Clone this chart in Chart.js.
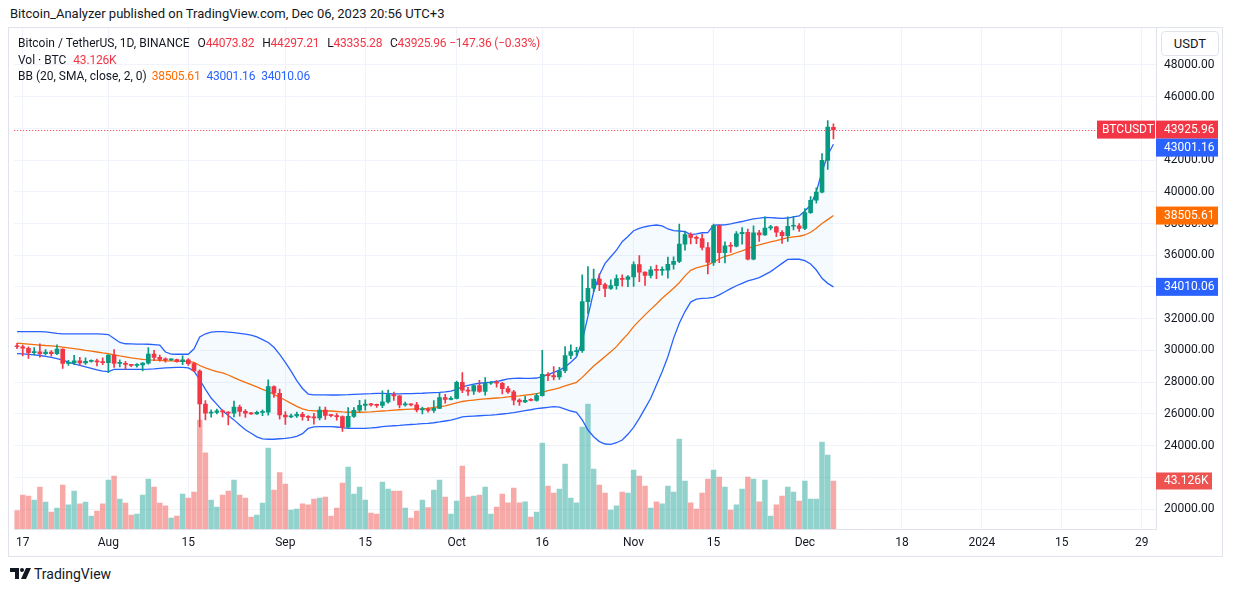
<!DOCTYPE html>
<html>
<head>
<meta charset="utf-8">
<script src="https://cdn.jsdelivr.net/npm/chart.js@4.4.0/dist/chart.umd.min.js"></script>
<style>
  body { margin: 0; background: #fff; font-family: Roboto, "Noto Sans", sans-serif; color: #131722; }
  #top { position: absolute; left: 10px; top: 6px; font-size: 13px; white-space: nowrap; }
  #frame { position: absolute; left: 8px; top: 27px; width: 1213px; height: 528px; border: 1px solid #E0E3EB; }
  #legend { position: absolute; left: 18px; top: 35px; font-size: 12px; line-height: 16.5px; white-space: nowrap; z-index: 2; }
  #legend .r { color: #F23645; }
  #legend .o { color: #FF6D00; }
  #legend .b { color: #2962FF; }
  #legend .n { letter-spacing: -0.2px; }
  #legend .k { margin-left: 5px; }
  #usdt { position: absolute; left: 1161px; top: 31px; width: 56px; height: 23px; border: 1px solid #E0E3EB; border-radius: 4px; background: #fff; font-size: 13px; line-height: 23px; text-align: center; z-index: 2; }
  #brand { position: absolute; left: 10px; top: 566px; font-size: 14px; display: flex; align-items: center; }
</style>
</head>
<body>
<div id="top">Bitcoin_Analyzer published on TradingView.com, Dec 06, 2023 20:56 UTC+3</div>
<div id="frame"><canvas id="chart"></canvas></div>
<div id="legend">
  <div>Bitcoin / TetherUS, 1D, BINANCE <span class="n"><span class="k">O</span><span class="r">44073.82</span> <span class="k">H</span><span class="r">44297.21</span> <span class="k">L</span><span class="r">43335.28</span> <span class="k">C</span><span class="r">43925.96 &minus;147.36 (&minus;0.33%)</span></span></div>
  <div>Vol · BTC <span class="r n" style="margin-left:4px">43.126K</span></div>
  <div>BB (20, SMA, close, 2, 0) <span class="o n" style="margin-left:2px">38505.61</span> <span class="b n" style="margin-left:3px">43001.16</span> <span class="b n" style="margin-left:3px">34010.06</span></div>
</div>
<div id="usdt">USDT</div>
<div id="brand">
  <svg width="22" height="12" viewBox="0 0 22 12"><path d="M0 0h9v11H5V4H0z" fill="#131722"/><circle cx="12" cy="2" r="2" fill="#131722"/><path d="M16 0h5l-5 11h-5z" fill="#131722"/></svg>
  <span style="margin-left:2px">TradingView</span>
</div>
<script>
// ------------------------------------------------------- //
// Data (daily, from 2023-07-16 to 2023-12-06)
// ------------------------------------------------------ //
var startDate = Date.UTC(2023, 6, 16);
var dayCount = 200; // visible days on the time axis, up to end of Jan 2024

var tickDates = ['2023-07-17', '2023-08-01', '2023-08-15', '2023-09-01', '2023-09-15', '2023-10-01', '2023-10-16',
                 '2023-11-01', '2023-11-15', '2023-12-01', '2023-12-18', '2024-01-01', '2024-01-15', '2024-01-29'];
var tickText = ['17', 'Aug', '15', 'Sep', '15', 'Oct', '16', 'Nov', '15', 'Dec', '18', '2024', '15', '29'];
var priceTicks = [20000, 22000, 24000, 26000, 28000, 30000, 32000, 34000, 36000, 38000, 40000, 42000, 44000, 46000, 48000];
var hiddenPriceLabels = [22000]; // covered by the volume tag

var opens = [30290, 30230, 30140, 29860, 29910, 29800, 29900, 29790, 30080, 29180,
  29230, 29350, 29210, 29310, 29350, 29280, 29230, 29700, 29180, 29190,
  29110, 29060, 29080, 29200, 29770, 29560, 29430, 29400, 29420, 29290,
  29410, 29170, 28700, 26620, 26050, 26090, 26190, 26120, 26050, 26430,
  26160, 26050, 26000, 26090, 26100, 27720, 27300, 25930, 25800, 25870,
  25970, 25820, 25780, 25750, 26240, 25900, 25890, 25830, 25160, 25840,
  26230, 26530, 26610, 26570, 26530, 26760, 27210, 27130, 26570, 26590,
  26570, 26250, 26300, 26220, 26350, 27020, 26910, 26970, 27990, 27500,
  27430, 27790, 27410, 27930, 27960, 27930, 27590, 27390, 26870, 26760,
  26860, 26850, 27150, 28500, 28410, 28330, 28720, 29680, 29920, 29990,
  33080, 33920, 34500, 34150, 33910, 34090, 34530, 34480, 34640, 35420,
  34940, 34730, 35080, 35050, 35060, 35430, 35620, 36700, 37310, 37130,
  37060, 36490, 35550, 37880, 36160, 36600, 36570, 37360, 37450, 35750,
  37420, 37290, 37720, 37800, 37450, 37240, 37830, 37860, 37700, 38690,
  39470, 39980, 41990, 44073.82];

var highs = [30450, 30340, 30230, 30180, 30420, 30050, 29990, 30350, 30100, 29380,
  29690, 29570, 29530, 29410, 29450, 29530, 29740, 30050, 29410, 29310,
  29120, 29170, 29240, 30180, 30000, 29700, 29530, 29470, 29450, 29660,
  29480, 29220, 28780, 26840, 26260, 26300, 26260, 26140, 26800, 26550,
  26270, 26100, 26170, 26250, 28140, 27760, 27570, 26140, 25980, 26120,
  26100, 25890, 26040, 26450, 26430, 25950, 26020, 25880, 26400, 26400,
  26860, 26890, 26670, 26620, 27460, 27500, 27380, 27150, 26740, 26640,
  26720, 26430, 26400, 26830, 27310, 27230, 27090, 28060, 28600, 27670,
  27830, 28120, 28290, 28050, 28100, 27990, 27740, 27480, 26940, 27100,
  26970, 27290, 30000, 28610, 28980, 28930, 30240, 30350, 30200, 34760,
  35280, 35130, 34830, 34240, 34450, 34760, 34760, 34720, 35590, 35980,
  34950, 35280, 35380, 35270, 35890, 35900, 37970, 37530, 37410, 37230,
  37340, 36800, 37970, 37910, 36850, 36800, 37500, 37750, 37650, 37860,
  37570, 38420, 37890, 37820, 37560, 38420, 38450, 38000, 38950, 39700,
  40250, 42420, 44490, 44297.21];

var lows = [30110, 29660, 29500, 29720, 29570, 29720, 29640, 29730, 28860, 29050,
  29100, 29060, 29120, 29260, 29030, 29100, 28590, 28930, 28960, 28800,
  28970, 28950, 28700, 29130, 29360, 29330, 29260, 29360, 29260, 29100,
  29060, 28660, 25170, 25620, 25790, 26000, 25810, 25300, 25800, 25860,
  25780, 25970, 25960, 25880, 25910, 27030, 25660, 25330, 25760, 25780,
  25600, 25570, 25350, 25620, 25650, 25800, 25600, 24900, 25130, 25770,
  26130, 26230, 26480, 26400, 26390, 26680, 26850, 26380, 26480, 26500,
  26130, 26000, 26100, 26090, 26330, 26670, 26880, 26940, 27330, 27160,
  27220, 27350, 27180, 27860, 27690, 27260, 27290, 26560, 26540, 26700,
  26810, 26800, 27110, 28090, 28140, 28170, 28600, 29480, 29670, 29880,
  32300, 33700, 33770, 33390, 33850, 33870, 34060, 34020, 34030, 34340,
  34100, 34580, 34530, 34740, 34550, 35130, 35540, 36330, 36720, 36740,
  36340, 34820, 35360, 35530, 35520, 36180, 36520, 36700, 35700, 35700,
  36880, 37260, 37600, 37170, 36750, 36870, 37600, 37500, 37620, 38640,
  39280, 39940, 41420, 43335.28];

var closes = [30230, 30140, 29860, 29910, 29800, 29900, 29790, 30080, 29180, 29230,
  29350, 29210, 29310, 29350, 29280, 29230, 29700, 29180, 29190, 29110,
  29060, 29080, 29200, 29770, 29560, 29430, 29400, 29420, 29290, 29410,
  29170, 28700, 26620, 26050, 26090, 26190, 26120, 26050, 26430, 26160,
  26050, 26000, 26090, 26100, 27720, 27300, 25930, 25800, 25870, 25970,
  25820, 25780, 25750, 26240, 25900, 25890, 25830, 25160, 25840, 26230,
  26530, 26610, 26570, 26530, 26760, 27210, 27130, 26570, 26590, 26570,
  26250, 26300, 26220, 26350, 27020, 26910, 26970, 27990, 27500, 27430,
  27790, 27410, 27930, 27960, 27930, 27590, 27390, 26870, 26760, 26860,
  26850, 27150, 28500, 28410, 28330, 28720, 29680, 29920, 29990, 33080,
  33920, 34500, 34150, 33910, 34090, 34530, 34480, 34640, 35420, 34940,
  34730, 35080, 35050, 35060, 35430, 35620, 36700, 37310, 37130, 37060,
  36490, 35550, 37880, 36160, 36600, 36570, 37360, 37450, 35750, 37420,
  37290, 37720, 37800, 37450, 37240, 37830, 37860, 37700, 38690, 39470,
  39980, 41990, 44080, 43925.96];

// volume in thousands of BTC
var volumes = [16.5, 30.5, 29.6, 26, 37.7, 24.2, 15.3, 18.9, 39.5, 21.6,
  34.1, 22.5, 24.2, 11.7, 16.2, 22.5, 44, 47.6, 26.9, 23.3,
  12.6, 13.5, 30.5, 44.9, 37.7, 23.3, 20.7, 9.9, 11.7, 31.4,
  27.8, 33.2, 97.9, 68.5, 26, 19.8, 30.5, 34.1, 44, 30.5,
  27.8, 10.8, 12.6, 23.3, 72.7, 35, 50.6, 40.4, 17.1, 18,
  22.5, 21.6, 26.9, 27.8, 28.7, 11.7, 18.9, 41.3, 55.7, 31.4,
  37.7, 26, 14.4, 13.5, 42.2, 35.9, 34.1, 34.1, 18.9, 9.9,
  16.2, 26, 19.2, 35, 44, 28.7, 13.5, 25.1, 56.6, 28.7,
  29.6, 30.5, 37.7, 13.5, 19.8, 31.4, 23.4, 36.8, 23.4, 24.3,
  10.8, 15.3, 77.2, 38.6, 32.3, 35.9, 58.4, 27.8, 23.4, 91.6,
  112.3, 53.9, 39.5, 32.3, 17.1, 20.7, 33.2, 32.3, 53, 47.6,
  38.6, 18.9, 24.3, 22.5, 38.6, 33.2, 80.8, 43.1, 23.4, 18,
  32.3, 44.9, 53, 46.7, 37.7, 17.1, 21.6, 35.9, 46.7, 44.9,
  24.3, 44, 11.7, 21.6, 29.6, 37.7, 33.2, 25.1, 43.1, 26.9,
  26.9, 78.1, 66.5, 43.126];

// Bollinger bands (20, 2)
var bbUpper = [31180, 31180, 31180, 31180, 31180, 31170, 31120, 31070, 31050, 31040,
  31040, 31040, 31040, 31040, 31040, 31030, 31000, 30750, 30500, 30420,
  30410, 30400, 30400, 30390, 30370, 30340, 29900, 29770, 29760, 29760,
  29760, 30100, 30850, 31050, 31150, 31180, 31180, 31160, 31120, 31080,
  31030, 30970, 30850, 30680, 30500, 30200, 29750, 29250, 28700, 28100,
  27600, 27250, 27200, 27200, 27200, 27190, 27190, 27200, 27210, 27230,
  27250, 27260, 27270, 27290, 27290, 27280, 27260, 27260, 27270, 27280,
  27290, 27300, 27320, 27340, 27360, 27390, 27430, 27550, 27700, 27800,
  27880, 27930, 27970, 28000, 28040, 28120, 28200, 28240, 28250, 28240,
  28240, 28260, 28350, 28480, 28620, 28760, 28950, 29250, 29600, 30600,
  32150, 33700, 34760, 35490, 35910, 36330, 36860, 37180, 37550, 37700,
  37800, 37870, 37910, 37850, 37660, 37550, 37530, 37490, 37300, 37350,
  37420, 37430, 37900, 37910, 37920, 37980, 38060, 38130, 38220, 38300,
  38340, 38390, 38380, 38350, 38330, 38350, 38420, 38480, 38790, 39170,
  40010, 41270, 42320, 43001.16];

var bbBasis = [30460, 30430, 30400, 30370, 30340, 30310, 30290, 30260, 30210, 30160,
  30110, 30060, 30000, 29950, 29900, 29840, 29800, 29720, 29650, 29590,
  29530, 29480, 29440, 29410, 29390, 29370, 29350, 29340, 29330, 29330,
  29300, 29250, 29050, 28900, 28780, 28670, 28580, 28450, 28280, 28130,
  27990, 27840, 27700, 27550, 27410, 27230, 27050, 26860, 26660, 26470,
  26320, 26220, 26190, 26180, 26180, 26180, 26150, 26120, 26100, 26110,
  26100, 26110, 26130, 26160, 26180, 26200, 26240, 26260, 26280, 26300,
  26320, 26330, 26350, 26400, 26450, 26500, 26600, 26700, 26780, 26830,
  26870, 26910, 26940, 26970, 27000, 27030, 27070, 27110, 27140, 27180,
  27220, 27270, 27350, 27460, 27550, 27640, 27760, 27880, 27990, 28300,
  28660, 29020, 29310, 29610, 29920, 30240, 30660, 31040, 31500, 31880,
  32240, 32590, 32930, 33290, 33600, 33920, 34270, 34700, 35050, 35200,
  35300, 35390, 35560, 35780, 35930, 36030, 36160, 36280, 36420, 36560,
  36650, 36750, 36840, 36920, 37020, 37110, 37160, 37200, 37280, 37450,
  37700, 38000, 38250, 38505.61];

var bbLower = [29800, 29780, 29750, 29720, 29680, 29620, 29560, 29480, 29390, 29260,
  29150, 29050, 28960, 28870, 28780, 28700, 28660, 28800, 28810, 28810,
  28810, 28810, 28810, 28820, 28840, 28870, 28900, 28920, 28930, 28930,
  28900, 28700, 28150, 27550, 27000, 26600, 26200, 25900, 25620, 25300,
  25000, 24780, 24550, 24420, 24400, 24400, 24430, 24460, 24500, 24580,
  24750, 25080, 25180, 25190, 25190, 25190, 25170, 25130, 25090, 25080,
  25080, 25090, 25110, 25140, 25200, 25230, 25250, 25270, 25300, 25330,
  25350, 25380, 25400, 25440, 25490, 25550, 25600, 25700, 25810, 25840,
  25860, 25880, 25900, 25920, 25950, 25990, 26030, 26080, 26140, 26200,
  26260, 26330, 26370, 26410, 26450, 26420, 26300, 26180, 26100, 25620,
  24980, 24560, 24250, 24100, 24080, 24180, 24350, 24710, 25150, 25720,
  26350, 26980, 27820, 28660, 29600, 30760, 31710, 32450, 33050, 33230,
  33280, 33300, 33350, 33500, 33700, 33900, 34080, 34230, 34380, 34480,
  34590, 34780, 34970, 35230, 35490, 35740, 35760, 35750, 35660, 35450,
  35070, 34550, 34230, 34010.06];

// ------------------------------------------------------- //
// Build what chart.js needs
// ------------------------------------------------------ //
var UP = '#089981', DOWN = '#F23645';

var labels = [];
for (var i = 0; i < dayCount; i++) {
    labels.push(new Date(startDate + i * 86400000).toISOString().slice(0, 10));
}

var bodies = [], wicks = [], candleColors = [], volColors = [];
opens.forEach(function (o, i) {
    var c = closes[i];
    bodies.push([Math.min(o, c), Math.max(o, c)]);
    wicks.push([lows[i], highs[i]]);
    candleColors.push(c >= o ? UP : DOWN);
    volColors.push(c >= o ? 'rgba(38,166,154,0.5)' : 'rgba(239,83,80,0.5)');
});

var lastClose = closes[closes.length - 1];
var lastVol = volumes[volumes.length - 1];

// badges on the price axis + last price dotted line
var badgesPlugin = {
    id: 'badges',
    afterDraw: function (chart) {
        var ctx = chart.ctx, area = chart.chartArea;
        var y = chart.scales.y, yv = chart.scales.yVol;
        ctx.save();
        ctx.font = '12px Roboto, "Noto Sans", sans-serif';
        ctx.textBaseline = 'middle';

        var py = y.getPixelForValue(lastClose);
        // dotted line
        ctx.strokeStyle = DOWN;
        ctx.lineWidth = 1;
        ctx.setLineDash([1, 2]);
        ctx.beginPath();
        ctx.moveTo(area.left, Math.round(py) + 0.5);
        ctx.lineTo(area.right - 60, Math.round(py) + 0.5);
        ctx.stroke();
        ctx.setLineDash([]);
        // BTCUSDT tag
        ctx.fillStyle = DOWN;
        ctx.fillRect(area.right - 59, py - 9, 58, 18);
        ctx.fillStyle = '#fff';
        ctx.fillText('BTCUSDT', area.right - 54, py + 0.5);

        var items = [
            { v: lastClose, color: DOWN },
            { v: bbUpper[bbUpper.length - 1], color: '#2962FF' },
            { v: bbBasis[bbBasis.length - 1], color: '#FF6D00' },
            { v: bbLower[bbLower.length - 1], color: '#2962FF' }
        ];
        var prevBottom = -1e9;
        items.forEach(function (it) {
            var cy = y.getPixelForValue(it.v);
            var top = cy - 9;
            if (top < prevBottom) top = prevBottom;
            prevBottom = top + 18;
            ctx.fillStyle = it.color;
            ctx.fillRect(area.right, top, 62, 18);
            ctx.fillStyle = '#fff';
            ctx.fillText(it.v.toFixed(2), area.right + 8, top + 9.5);
        });
        // volume badge
        var vy = yv.getPixelForValue(lastVol);
        ctx.fillStyle = '#EF5350';
        ctx.fillRect(area.right, vy - 8.5, 56, 17);
        ctx.fillStyle = '#fff';
        ctx.fillText(lastVol.toFixed(3) + 'K', area.right + 8, vy + 0.5);
        ctx.restore();
    }
};

Chart.defaults.font.family = 'Roboto, "Noto Sans", sans-serif';
Chart.defaults.color = '#131722';

var ctxC = document.getElementById('chart').getContext('2d');
var chart = new Chart(ctxC, {
    type: 'bar',
    data: {
        labels: labels,
        datasets: [
            {   // candle bodies
                data: bodies, backgroundColor: candleColors, barThickness: 4,
                minBarLength: 1, grouped: false, order: 0, yAxisID: 'y'
            },
            {   // wicks
                data: wicks, backgroundColor: candleColors, barThickness: 1,
                grouped: false, order: 1, yAxisID: 'y'
            },
            {
                type: 'line', data: bbUpper, borderColor: '#2962FF', borderWidth: 1.3,
                pointRadius: 0, fill: 4, backgroundColor: 'rgba(33,150,243,0.05)', order: 2, yAxisID: 'y'
            },
            {
                type: 'line', data: bbBasis, borderColor: '#FF6D00', borderWidth: 1.3,
                pointRadius: 0, fill: false, order: 2, yAxisID: 'y'
            },
            {
                type: 'line', data: bbLower, borderColor: '#2962FF', borderWidth: 1.3,
                pointRadius: 0, fill: false, order: 2, yAxisID: 'y'
            },
            {   // volume
                data: volumes, backgroundColor: volColors, barThickness: 4.8,
                grouped: false, order: 5, yAxisID: 'yVol'
            }
        ]
    },
    options: {
        responsive: true,
        maintainAspectRatio: false,
        animation: false,
        layout: { padding: 0 },
        plugins: { legend: { display: false }, tooltip: { enabled: false } },
        scales: {
            x: {
                offset: true,
                grid: { color: '#F0F3FA', drawTicks: false, offset: false },
                border: { color: '#E0E3EB' },
                ticks: {
                    autoSkip: false, maxRotation: 0, padding: 7, font: { size: 12 },
                    callback: function (v, i) {
                        var k = tickDates.indexOf(labels[i]);
                        return k >= 0 ? tickText[k] : null;
                    }
                },
                afterFit: function (s) { s.height = 27; }
            },
            y: {
                position: 'right',
                min: 18739, max: 50333,
                grid: { color: '#F0F3FA', drawTicks: false },
                border: { color: '#E0E3EB' },
                ticks: {
                    padding: 8, font: { size: 12 },
                    callback: function (v) {
                        return hiddenPriceLabels.indexOf(v) >= 0 ? '' : v.toFixed(2);
                    }
                },
                afterBuildTicks: function (s) {
                    s.ticks = priceTicks.map(function (v) { return { value: v }; });
                },
                afterFit: function (s) { s.width = 66; s.paddingTop = 0; s.paddingBottom = 0; }
            },
            yVol: { display: false, min: 0, max: 450 }
        }
    },
    plugins: [badgesPlugin]
});
</script>
</body>
</html>
